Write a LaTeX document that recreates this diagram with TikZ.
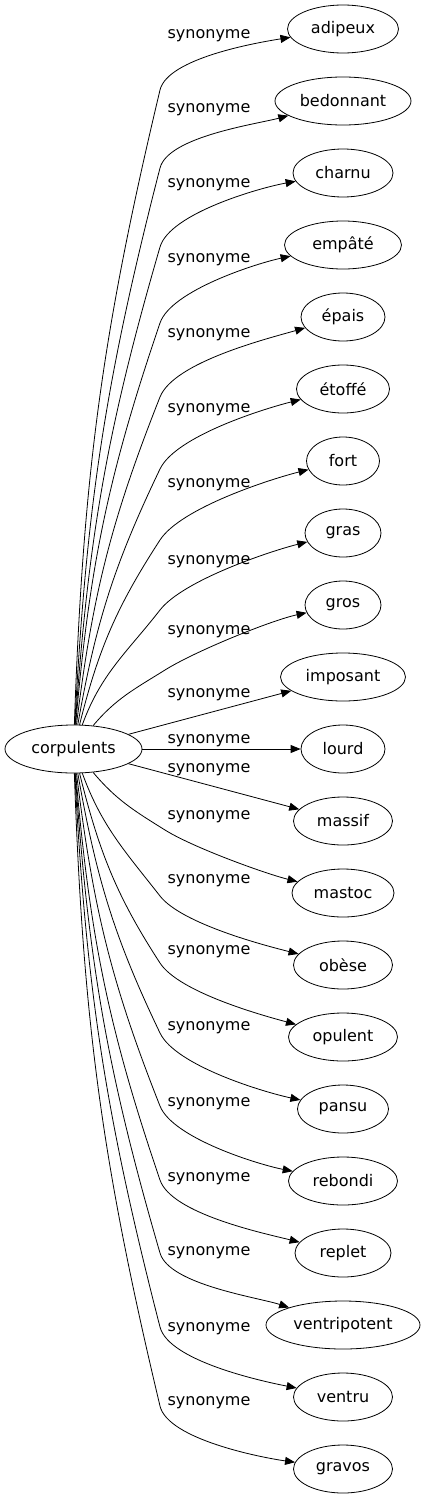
\documentclass[tikz,border=0pt]{standalone}
\usepackage{fontspec}
\setmainfont{DejaVu Sans}
\usetikzlibrary{arrows.meta,shapes.geometric}
\begin{document}
\begin{tikzpicture}[x=1pt,y=1pt,
    word/.style={draw, ellipse, line width=0.8pt, minimum height=48pt, inner sep=0pt, font=\fontsize{16}{19}\selectfont},
    lbl/.style={inner sep=0pt, anchor=base, font=\fontsize{16}{19}\selectfont},
    rel/.style={draw, line width=0.8pt, -{Triangle[length=10pt,width=8pt]}},
    tight/.style={looseness=0.6}]
    \useasboundingbox (0,0) rectangle (426,-1499);
    \node [word, minimum width=137pt] (corp) at (73.5,-749) {corpulents};
    \node [word, minimum width=111pt] (adipeux) at (343,-29) {adipeux};
    \node [word, minimum width=136pt] (bedonnant) at (343,-101) {bedonnant};
    \node [word, minimum width=100pt] (charnu) at (343,-173) {charnu};
    \node [word, minimum width=117pt] (empate) at (343,-245) {empâté};
    \node [word, minimum width=84pt] (epais) at (343,-317) {épais};
    \node [word, minimum width=93pt] (etoffe) at (343,-389) {étoffé};
    \node [word, minimum width=73pt] (fort) at (343,-461) {fort};
    \node [word, minimum width=76pt] (gras) at (343,-533) {gras};
    \node [word, minimum width=76pt] (gros) at (343,-605) {gros};
    \node [word, minimum width=125pt] (imposant) at (343,-677) {imposant};
    \node [word, minimum width=84pt] (lourd) at (343,-749) {lourd};
    \node [word, minimum width=99pt] (massif) at (343,-821) {massif};
    \node [word, minimum width=102pt] (mastoc) at (343,-893) {mastoc};
    \node [word, minimum width=99pt] (obese) at (343,-965) {obèse};
    \node [word, minimum width=109pt] (opulent) at (343,-1037) {opulent};
    \node [word, minimum width=91pt] (pansu) at (343,-1109) {pansu};
    \node [word, minimum width=109pt] (rebondi) at (343,-1181) {rebondi};
    \node [word, minimum width=96pt] (replet) at (343,-1253) {replet};
    \node [word, minimum width=154pt] (ventripotent) at (343,-1325) {ventripotent};
    \node [word, minimum width=99pt] (ventru) at (343,-1397) {ventru};
    \node [word, minimum width=99pt] (gravos) at (343,-1469) {gravos};
    \node [lbl] (s-adipeux) at (209,-38) {synonyme};
    \node [lbl] (s-bedonnant) at (209,-112) {synonyme};
    \node [lbl] (s-charnu) at (209,-187) {synonyme};
    \node [lbl] (s-empate) at (209,-262) {synonyme};
    \node [lbl] (s-epais) at (209,-337) {synonyme};
    \node [lbl] (s-etoffe) at (209,-412) {synonyme};
    \node [lbl] (s-fort) at (209,-487) {synonyme};
    \node [lbl] (s-gras) at (209,-564) {synonyme};
    \node [lbl] (s-gros) at (209,-634) {synonyme};
    \node [lbl] (s-imposant) at (209,-697) {synonyme};
    \node [lbl] (s-lourd) at (209,-743) {synonyme};
    \node [lbl] (s-massif) at (209,-772) {synonyme};
    \node [lbl] (s-mastoc) at (209,-819) {synonyme};
    \node [lbl] (s-obese) at (209,-883) {synonyme};
    \node [lbl] (s-opulent) at (209,-954) {synonyme};
    \node [lbl] (s-pansu) at (209,-1030) {synonyme};
    \node [lbl] (s-rebondi) at (209,-1106) {synonyme};
    \node [lbl] (s-replet) at (209,-1181) {synonyme};
    \node [lbl] (s-ventripotent) at (209,-1255) {synonyme};
    \node [lbl] (s-ventru) at (209,-1331) {synonyme};
    \node [lbl] (s-gravos) at (209,-1405) {synonyme};
    \draw [rel] (corp) to [out=88, in=256.6] (160,-90) to [out=76.6, in=189, tight] (adipeux);
    \draw [rel] (corp) to [out=87, in=255.6] (160,-168) to [out=75.6, in=195, tight] (bedonnant);
    \draw [rel] (corp) to [out=86, in=253.8] (160,-247) to [out=73.8, in=190, tight] (charnu);
    \draw [rel] (corp) to [out=85, in=251.2] (160,-323) to [out=71.2, in=192, tight] (empate);
    \draw [rel] (corp) to [out=83, in=248.4] (160,-397) to [out=68.4, in=196, tight] (epais);
    \draw [rel] (corp) to [out=80, in=244.4] (160,-469) to [out=64.4, in=194, tight] (etoffe);
    \draw [rel] (corp) to [out=76, in=237] (160,-540) to [out=57, in=194, tight] (fort);
    \draw [rel] (corp) to [out=70, in=232] (160,-610) to [out=52, in=194, tight] (gras);
    \draw [rel] (corp) to [out=50, in=212] (165,-670) to [out=32, in=192, tight] (gros);
    \draw [rel] (corp) -- (imposant);
    \draw [rel] (corp) -- (lourd);
    \draw [rel] (corp) -- (massif);
    \draw [rel] (corp) to [out=-50, in=148] (165,-830) to [out=-32, in=166, tight] (mastoc);
    \draw [rel] (corp) to [out=-70, in=128] (160,-896) to [out=-52, in=166, tight] (obese);
    \draw [rel] (corp) to [out=-76, in=123] (160,-963) to [out=-57, in=165, tight] (opulent);
    \draw [rel] (corp) to [out=-80, in=115.6] (160,-1033) to [out=-64.4, in=168, tight] (pansu);
    \draw [rel] (corp) to [out=-83, in=111.6] (160,-1106) to [out=-68.4, in=169, tight] (rebondi);
    \draw [rel] (corp) to [out=-85, in=108.8] (160,-1180) to [out=-71.2, in=166, tight] (replet);
    \draw [rel] (corp) to [out=-86, in=106.2] (160,-1253) to [out=-73.8, in=162, tight] (ventripotent);
    \draw [rel] (corp) to [out=-87, in=104.4] (160,-1327) to [out=-75.6, in=169, tight] (ventru);
    \draw [rel] (corp) to [out=-88, in=103.4] (160,-1406) to [out=-76.6, in=172, tight] (gravos);
\end{tikzpicture}
\end{document}
